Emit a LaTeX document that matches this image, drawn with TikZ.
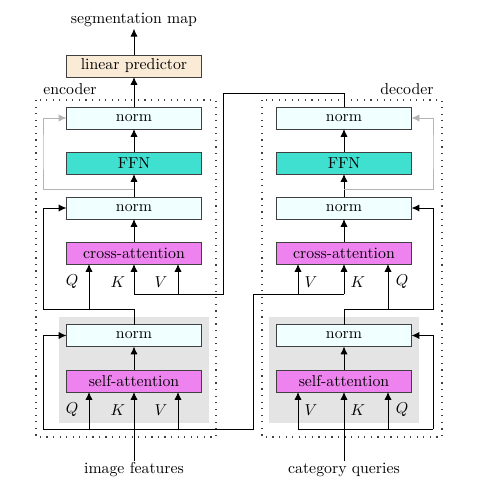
\documentclass[tikz,border=0pt]{standalone}
\usetikzlibrary{arrows.meta}
\definecolor{normc}{HTML}{F0FFFF}
\definecolor{ffnc}{HTML}{40E0D0}
\definecolor{attc}{HTML}{EE82EE}
\definecolor{lpc}{HTML}{FAEBD7}
\definecolor{bgc}{HTML}{E4E4E4}
\definecolor{fbc}{HTML}{B4B4B4}
\begin{document}
\begin{tikzpicture}[x=0.633pt,y=-0.633pt,
  blk/.style={draw=black!75,line width=0.6pt,minimum width=85.5pt,minimum height=13.9pt,inner sep=0pt,outer sep=0pt,font=\normalsize},
  nrm/.style={blk,fill=normc},
  ffn/.style={blk,fill=ffnc},
  att/.style={blk,fill=attc},
  lin/.style={blk,fill=lpc},
  ln/.style={line width=0.6pt},
  arr/.style={ln,-{Latex[length=5pt,width=4.6pt]}},
  fb/.style={line width=0.55pt,fbc,-{Latex[length=5pt,width=4.6pt]}},
  dotbox/.style={line width=0.75pt,dash pattern=on 0.75pt off 3.4pt,black!75},
  bgbox/.style={fill=bgc,draw=none},
  lbl/.style={font=\normalsize,inner sep=1pt},
  qkv/.style={font=\normalsize,inner sep=0pt}]
\useasboundingbox (0,0) rectangle (476,492);
% backgrounds
\fill[bgbox] (59,317) rectangle (209,423);
\fill[bgbox] (269,317) rectangle (419,423);
\draw[dotbox] (36,100) rectangle (216,437);
\draw[dotbox] (262,100) rectangle (442,437);
% texts
\node[lbl] (seg) at (134,20) {segmentation map};
\node[lbl] (enc) at (70,89) {encoder};
\node[lbl] (dec) at (407,89) {decoder};
\node[lbl] (img) at (134,470) {image features};
\node[lbl] (cat) at (344,470) {category queries};
% encoder boxes
\node[lin] (lp) at (134,66) {linear predictor};
\node[nrm] (en3) at (134,118) {norm};
\node[ffn] (effn) at (134,163) {FFN};
\node[nrm] (en2) at (134,208) {norm};
\node[att] (eca) at (134,253) {cross-attention};
\node[nrm] (en1) at (134,335.5) {norm};
\node[att] (esa) at (134,381) {self-attention};
% decoder boxes
\node[nrm] (dn3) at (344,118) {norm};
\node[ffn] (dffn) at (344,163) {FFN};
\node[nrm] (dn2) at (344,208) {norm};
\node[att] (dca) at (344,253) {cross-attention};
\node[nrm] (dn1) at (344,335.5) {norm};
\node[att] (dsa) at (344,381) {self-attention};
% labels
\node[qkv] (eq1) at (72,282) {$Q$};
\node[qkv] (ek1) at (118,282) {$K$};
\node[qkv] (ev1) at (161,282) {$V$};
\node[qkv] (eq2) at (72,410) {$Q$};
\node[qkv] (ek2) at (118,410) {$K$};
\node[qkv] (ev2) at (161,410) {$V$};
\node[qkv] (dv1) at (311,282) {$V$};
\node[qkv] (dk1) at (358,282) {$K$};
\node[qkv] (dq1) at (402,282) {$Q$};
\node[qkv] (dv2) at (311,410) {$V$};
\node[qkv] (dk2) at (358,410) {$K$};
\node[qkv] (dq2) at (402,410) {$Q$};
% coordinates
\coordinate (efb) at (134,189);
\coordinate (dfb) at (344,189);
\coordinate (eqa) at (89,309);
\coordinate (dqa) at (388,309);
\coordinate (kvt) at (223,93);
\coordinate (ekv) at (134,294);
\coordinate (evv) at (178,294);
\coordinate (ebl) at (43,429);
\coordinate (ebq) at (89,429);
\coordinate (ebv) at (178,429);
\coordinate (ebr) at (253,429);
\coordinate (dkv) at (344,294);
\coordinate (dvv) at (298,294);
\coordinate (dbl) at (298,429);
\coordinate (dbq) at (388,429);
\coordinate (dbr) at (433,429);
% encoder flow
\draw[arr] (lp.north) -- (seg.south);
\draw[arr] (en3.north) -- (lp.south);
\draw[arr] (effn.north) -- (en3.south);
\draw[arr] (en2.north) -- (effn.south);
\draw[arr] (eca.north) -- (en2.south);
\draw[arr] (esa.north) -- (en1.south);
\draw[fb] (efb) -| (43,150) |- (en3.west);
\draw[arr] (en1.north) |- (43,309) |- (en2.west);
\draw[arr] (eqa) -- (eqa |- eca.south);
\draw[ln] (dn3.north) |- (kvt) |- (ekv);
\draw[arr] (ekv) -- (eca.south);
\draw[arr] (evv) -- (evv |- eca.south);
\draw[arr] (img.north) -- (esa.south);
\draw[ln] (ebl) -- (ebr) |- (dkv);
\draw[arr] (ebl) |- (en1.west);
\draw[arr] (ebq) -- (ebq |- esa.south);
\draw[arr] (ebv) -- (ebv |- esa.south);
\draw[arr] (dkv) -- (dca.south);
\draw[arr] (dvv) -- (dvv |- dca.south);
% decoder flow
\draw[arr] (cat.north) -- (dsa.south);
\draw[ln] (dbl) -- (dbr);
\draw[arr] (dbl) -- (dbl |- dsa.south);
\draw[arr] (dbq) -- (dbq |- dsa.south);
\draw[arr] (dbr) |- (dn1.east);
\draw[arr] (dsa.north) -- (dn1.south);
\draw[arr] (dn1.north) |- (433,309) |- (dn2.east);
\draw[arr] (dqa) -- (dqa |- dca.south);
\draw[arr] (dca.north) -- (dn2.south);
\draw[arr] (dn2.north) -- (dffn.south);
\draw[arr] (dffn.north) -- (dn3.south);
\draw[fb] (dfb) -| (433,150) |- (dn3.east);
\end{tikzpicture}
\end{document}
